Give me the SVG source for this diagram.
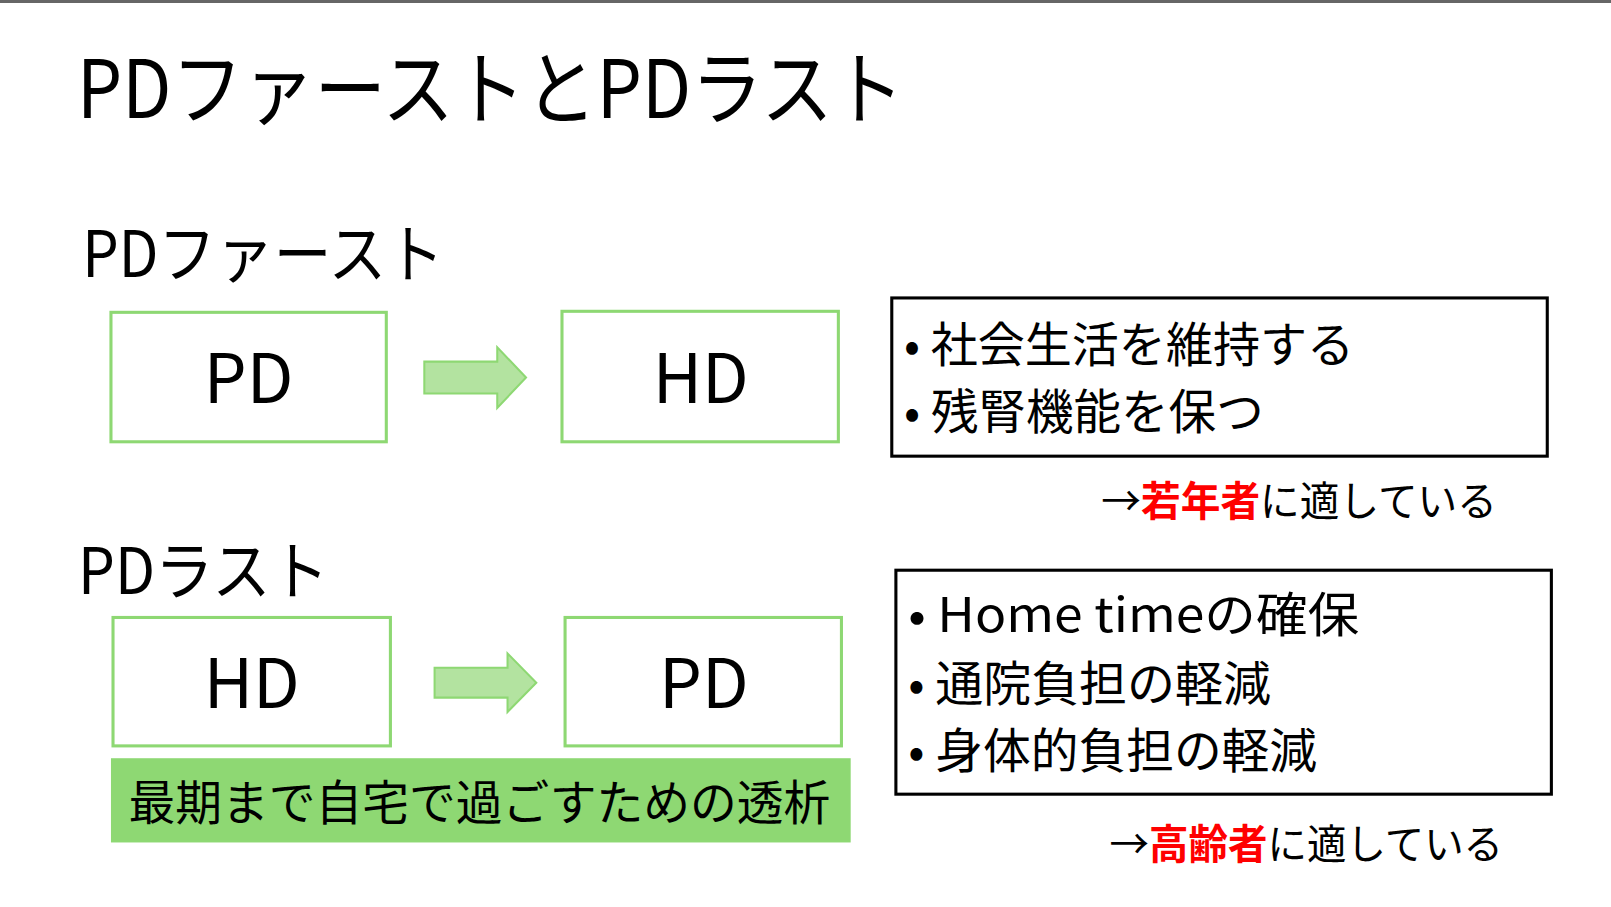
<svg xmlns="http://www.w3.org/2000/svg" width="1611" height="907" viewBox="0 0 1611 907">
<style>
text{font-family:"Noto Sans CJK JP","Noto Sans",sans-serif;fill:#000}
.g{fill:#fff;stroke:#8ed873;stroke-width:3}
.b{fill:#fff;stroke:#000;stroke-width:3}
.arr{fill:#b3e3a0;stroke:#8ed873;stroke-width:2}
.r{fill:#ff0000;font-weight:bold}
</style>
<rect width="1611" height="907" fill="#fff"/>
<rect width="1611" height="3" fill="#666"/>
<g transform="scale(1.0274)">
<text x="75" y="115" font-size="78" textLength="805" lengthAdjust="spacingAndGlyphs">PDファーストとPDラスト</text>
<text x="80" y="270" font-size="62" textLength="352" lengthAdjust="spacingAndGlyphs">PDファースト</text>
<text x="76" y="578" font-size="62" textLength="244" lengthAdjust="spacingAndGlyphs">PDラスト</text>
<g id="n-pd1"><rect class="g" x="108" y="304" width="268" height="126"/><text x="242" y="392" font-size="66" text-anchor="middle">PD</text></g>
<g id="n-hd1"><rect class="g" x="547" y="303" width="269" height="127"/><text x="682" y="392" font-size="66" text-anchor="middle">HD</text></g>
<g id="n-hd2"><rect class="g" x="110" y="601" width="270" height="125"/><text x="245" y="689" font-size="66" text-anchor="middle">HD</text></g>
<g id="n-pd2"><rect class="g" x="550" y="601" width="269" height="125"/><text x="685" y="689" font-size="66" text-anchor="middle">PD</text></g>
<g id="connectors">
<path class="arr" d="M413 352H484V338L512 367.5L484 397V383H413Z"/>
<path class="arr" d="M423 650H494V636L522 664.5L494 693V679H423Z"/>
</g>
<g id="n-box1"><rect class="b" x="868" y="290" width="638" height="154"/>
<text x="880" y="352" font-size="46" textLength="438" lengthAdjust="spacingAndGlyphs">• 社会生活を維持する</text>
<text x="880" y="418" font-size="46" textLength="350" lengthAdjust="spacingAndGlyphs">• 残腎機能を保つ</text></g>
<g id="n-box2"><rect class="b" x="872" y="555" width="638" height="218"/>
<text x="884" y="615" font-size="46" textLength="439" lengthAdjust="spacingAndGlyphs">• Home timeの確保</text>
<text x="884" y="682" font-size="46" textLength="353" lengthAdjust="spacingAndGlyphs">• 通院負担の軽減</text>
<text x="884" y="748" font-size="46" textLength="398" lengthAdjust="spacingAndGlyphs">• 身体的負担の軽減</text></g>
<g id="n-note"><rect x="108" y="738" width="720" height="82" fill="#8ed873"/>
<text x="125" y="798" font-size="46" textLength="683" lengthAdjust="spacingAndGlyphs">最期まで自宅で過ごすための透析</text></g>
<text x="1072" y="502" font-size="40" textLength="385" lengthAdjust="spacingAndGlyphs">→<tspan class="r">若年者</tspan>に適している</text>
<text x="1080" y="836" font-size="40" textLength="383" lengthAdjust="spacingAndGlyphs">→<tspan class="r">高齢者</tspan>に適している</text>
</g>
</svg>
